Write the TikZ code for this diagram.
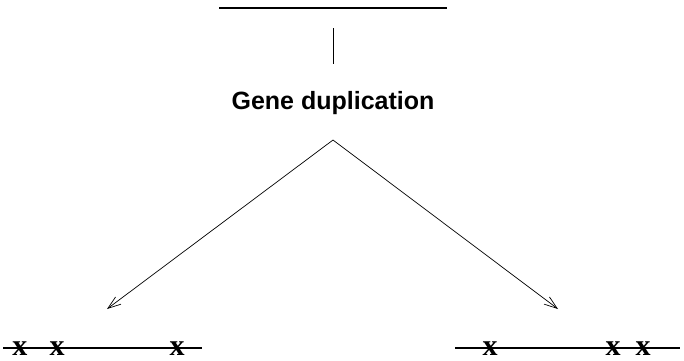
\documentclass[tikz,border=0pt]{standalone}
\usepackage{fontspec}
\setmainfont{Liberation Serif}
\newfontfamily\headfont{Liberation Sans}
\usetikzlibrary{arrows.meta}
\tikzset{
  thick line/.style={line width=1.5pt},
  thin line/.style={line width=0.8pt},
  arr/.style={line width=0.7pt,-{Straight Barb[length=13pt,width=9pt]}},
  mark x/.style={inner sep=0pt,anchor=base,font=\fontsize{30}{30}\selectfont\bfseries},
  title/.style={inner sep=0pt,font=\headfont\fontsize{25}{28}\selectfont\bfseries}
}
\begin{document}
\begin{tikzpicture}[x=1pt,y=-1pt]
\useasboundingbox (0,0) rectangle (684,360);
% top gene
\coordinate (t1) at (219,8);
\coordinate (t2) at (447,8);
\draw[thick line] (t1) -- (t2);
% vertical tick
\coordinate (v1) at (333,28);
\coordinate (v2) at (333,64);
\draw[thin line] (v1) -- (v2);
% title
\node[title] (gd) at (333,103) {Gene duplication};
% arrows
\coordinate (apex) at (333,140);
\coordinate (lt) at (107,309);
\coordinate (rt) at (558,309);
\draw[arr] (apex) -- (lt);
\draw[arr] (apex) -- (rt);
% bottom genes
\coordinate (l1) at (3,348);
\coordinate (l2) at (202,348);
\coordinate (r1) at (455,348);
\coordinate (r2) at (680,348);
\draw[thick line] (l1) -- (l2);
\draw[thick line] (r1) -- (r2);
\node[mark x] (x1) at (20,355) {x};
\node[mark x] (x2) at (57,355) {x};
\node[mark x] (x3) at (177,355) {x};
\node[mark x] (x4) at (490,355) {x};
\node[mark x] (x5) at (613,355) {x};
\node[mark x] (x6) at (643,355) {x};
\end{tikzpicture}
\end{document}
